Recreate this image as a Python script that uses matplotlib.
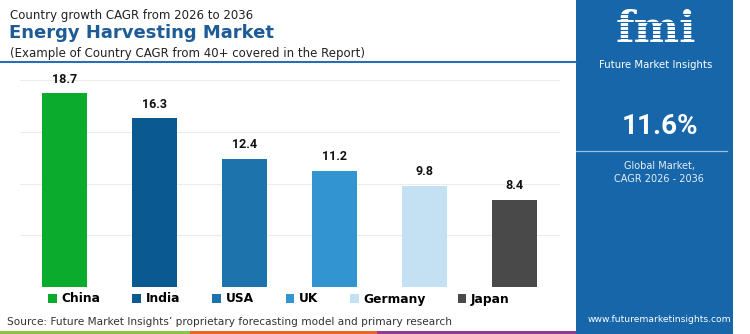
import matplotlib.pyplot as plt
from matplotlib.patches import Patch, Rectangle
from matplotlib.lines import Line2D

# data
countries = ["China", "India", "USA", "UK", "Germany", "Japan"]
cagr = [18.7, 16.3, 12.4, 11.2, 9.8, 8.4]
bar_colors = ["#0bab2d", "#0a5a91", "#1d74ad", "#3394d2", "#c3e1f3", "#494949"]
global_cagr = "11.6%"

W, H = 750, 334
PANEL = "#1766a9"
TITLE_BLUE = "#1d5c97"


def fx(x):
    return x / W


def fy(y):
    return 1 - y / H


fig = plt.figure(figsize=(W / 100, H / 100), dpi=100)
fig.patch.set_facecolor("white")

# bar chart area
ax = fig.add_axes([fx(19.5), fy(287), 540 / W, 207 / H])
x = list(range(len(countries)))
bars = ax.bar(x, cagr, width=0.5, color=bar_colors, zorder=3)
for xi, v in zip(x, cagr):
    ax.text(xi, v + 0.75, f"{v}", ha="center", va="bottom",
            fontsize=9, fontweight="bold", family="Roboto", color="#111111")
ax.set_xlim(-0.5, 5.5)
ax.set_ylim(0, 20)
ax.set_yticks([0, 5, 10, 15, 20])
ax.yaxis.grid(True, color="#ececec", linewidth=0.8, zorder=0)
ax.tick_params(left=False, bottom=False, labelleft=False, labelbottom=False)
for s in ax.spines.values():
    s.set_visible(False)
ax.patch.set_alpha(0)

# titles
fig.text(fx(10), fy(15), "Country growth CAGR from 2026 to 2036",
         fontsize=8.5, color="#222222", va="center", ha="left")
fig.text(fx(9), fy(33), "Energy Harvesting Market",
         fontsize=13, fontweight="bold", color=TITLE_BLUE, va="center", ha="left")
fig.text(fx(10), fy(53), "(Example of Country CAGR from 40+ covered in the Report)",
         fontsize=8.5, color="#222222", va="center", ha="left")
fig.add_artist(Line2D([0, fx(576)], [fy(62), fy(62)], color="#2a6db0",
                      linewidth=1.5, transform=fig.transFigure))

# legend
handles = [Patch(facecolor=c, edgecolor="none") for c in bar_colors]
fig.legend(handles, countries, loc="center", bbox_to_anchor=(fx(279), fy(299)),
           ncol=6, frameon=False, prop={"weight": "bold", "size": 8.8},
           handlelength=0.7, handleheight=0.7, handletextpad=0.4,
           columnspacing=2.6, borderaxespad=0, borderpad=0)

# source
fig.text(fx(7), fy(322),
         "Source: Future Market Insights\u2019 proprietary forecasting model and primary research",
         fontsize=7.6, color="#333333", va="center", ha="left")

# bottom colour strip
for x0, x1, c in [(0, 190, "#8bc34a"), (190, 377, "#e8662c"), (377, 576, "#8e3a96")]:
    fig.add_artist(Rectangle((fx(x0), 0), fx(x1 - x0), 3 / H, color=c,
                             transform=fig.transFigure, linewidth=0))

# right panel
fig.add_artist(Rectangle((fx(576), 0), fx(733 - 576), 1, color=PANEL,
                         transform=fig.transFigure, linewidth=0, zorder=0))
cx = fx(656)
fig.text(cx, fy(30), "fmi", fontsize=31, fontweight="bold", color="white",
         ha="center", va="center", family="DejaVu Serif")
for yy in range(14, 56, 4):
    fig.add_artist(Line2D([fx(598), fx(714)], [fy(yy), fy(yy)], color=PANEL,
                          linewidth=0.8, transform=fig.transFigure, zorder=5))
fig.text(cx, fy(65), "Future Market Insights", fontsize=7.3, color="white",
         ha="center", va="center")
fig.text(fx(660), fy(126), global_cagr, fontsize=20, fontweight="bold", color="white",
         ha="center", va="center", family="Roboto")
fig.add_artist(Line2D([fx(576), fx(727)], [fy(151), fy(151)], color="#9dc0e2",
                      linewidth=0.9, transform=fig.transFigure))
fig.text(fx(659), fy(166), "Global Market,", fontsize=7, color="#e6eef7",
         ha="center", va="center")
fig.text(fx(659), fy(179), "CAGR 2026 - 2036", fontsize=7, color="#e6eef7",
         ha="center", va="center")
fig.text(fx(659), fy(320), "www.futuremarketinsights.com", fontsize=6.6, color="white",
         ha="center", va="center")

fig.savefig("out.png", dpi=100)
